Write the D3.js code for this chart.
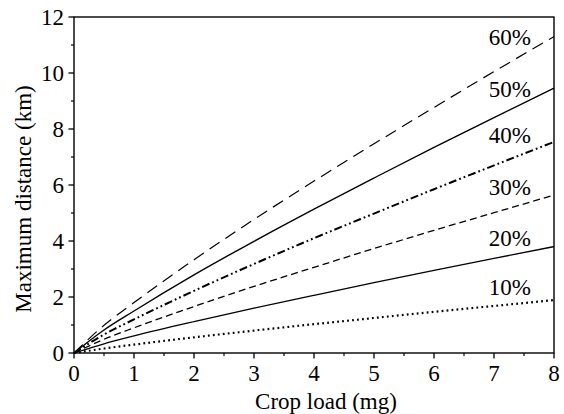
<!DOCTYPE html>
<html>
<head>
<meta charset="utf-8">
<script src="https://cdn.jsdelivr.net/npm/d3@7"></script>
<style>
  html, body { margin: 0; padding: 0; background: #fff; }
  svg { display: block; }
</style>
</head>
<body>
<svg id="chart" width="564" height="414"></svg>
<script>
// Crop load (mg) sample points
const cropLoad = [0, 0.5, 1, 2, 3, 4, 5, 6, 7, 8];

// Maximum flight distance (km) for each percentage
const pct10 = [0, 0.16, 0.30, 0.56, 0.80, 1.03, 1.25, 1.47, 1.68, 1.89];
const pct20 = [0, 0.33, 0.61, 1.12, 1.60, 2.06, 2.51, 2.95, 3.38, 3.80];
const pct30 = [0, 0.49, 0.90, 1.66, 2.38, 3.06, 3.73, 4.38, 5.01, 5.64];
const pct40 = [0, 0.66, 1.20, 2.22, 3.18, 4.10, 4.98, 5.85, 6.70, 7.54];
const pct50 = [0, 0.82, 1.50, 2.79, 3.99, 5.14, 6.25, 7.34, 8.41, 9.46];
const pct60 = [0, 0.99, 1.80, 3.33, 4.77, 6.14, 7.47, 8.77, 10.05, 11.30];

const seriesLabels = ["10%", "20%", "30%", "40%", "50%", "60%"];
const seriesValues = [pct10, pct20, pct30, pct40, pct50, pct60];

const xTicks = [0, 1, 2, 3, 4, 5, 6, 7, 8];
const yTicks = [0, 2, 4, 6, 8, 10, 12];

const xTitle = "Crop load (mg)";
const yTitle = "Maximum distance (km)";

// Line styles per series
const styles = {
  "10%": { width: 2.2, dash: "1.8,3.2", cap: "butt" },
  "20%": { width: 1.3, dash: null, cap: "butt" },
  "30%": { width: 1.3, dash: "7,4", cap: "butt" },
  "40%": { width: 2.0, dash: "8,3,1.8,3,1.8,3", cap: "butt" },
  "50%": { width: 1.4, dash: null, cap: "butt" },
  "60%": { width: 1.2, dash: "12,7", cap: "butt" }
};

const FONT = "Liberation Serif";
const svg = d3.select("#chart");
const margin = { left: 74, right: 10, top: 17, bottom: 61 };
const W = 564, H = 414;
const fs = 23;

const x = d3.scaleLinear().domain([0, 8]).range([margin.left, W - margin.right]);
const y = d3.scaleLinear().domain([0, 12]).range([H - margin.bottom, margin.top]);

const x0 = x(0), x1 = x(8), y0 = y(0), y1 = y(12);

function label(sel) {
  return sel.append("text").attr("font-family", FONT).attr("font-size", fs).attr("fill", "#000");
}

// Ticks and tick labels
const g = svg.append("g");
d3.range(0.5, 8, 1).forEach(v => {
  g.append("line").attr("x1", x(v)).attr("x2", x(v)).attr("y1", y0).attr("y2", y0 + 3)
    .attr("stroke", "#000").attr("stroke-width", 1.2);
});
xTicks.forEach(v => {
  g.append("line").attr("x1", x(v)).attr("x2", x(v)).attr("y1", y0).attr("y2", y0 + 5.5)
    .attr("stroke", "#000").attr("stroke-width", 1.3);
  label(g).attr("x", x(v)).attr("y", y0 + 28).attr("text-anchor", "middle").text(v);
});
d3.range(1, 12, 2).forEach(v => {
  g.append("line").attr("x1", x0 - 3).attr("x2", x0).attr("y1", y(v)).attr("y2", y(v))
    .attr("stroke", "#000").attr("stroke-width", 1.2);
});
yTicks.forEach(v => {
  g.append("line").attr("x1", x0 - 5.5).attr("x2", x0).attr("y1", y(v)).attr("y2", y(v))
    .attr("stroke", "#000").attr("stroke-width", 1.3);
  label(g).attr("x", x0 - 10).attr("y", y(v) + 0.33 * fs).attr("text-anchor", "end").text(v);
});

// Curves
const line = d3.line()
  .x(d => x(d[0]))
  .y(d => y(d[1]))
  .curve(d3.curveMonotoneX);

seriesLabels.forEach((lab, i) => {
  const st = styles[lab];
  const pts = cropLoad.map((c, j) => [c, seriesValues[i][j]]);
  svg.append("path")
    .attr("d", line(pts))
    .attr("fill", "none")
    .attr("stroke", "#000")
    .attr("stroke-width", st.width)
    .attr("stroke-linecap", st.cap)
    .attr("stroke-dasharray", st.dash);
});

// Frame
svg.append("rect")
  .attr("x", x0).attr("y", y1).attr("width", x1 - x0).attr("height", y0 - y1)
  .attr("fill", "none").attr("stroke", "#000").attr("stroke-width", 1.4);

// Series labels above each curve's end
const labelBaseline = { "60%": 45, "50%": 97, "40%": 143, "30%": 195, "20%": 246, "10%": 295 };
seriesLabels.forEach(lab => {
  label(svg).attr("x", 531).attr("y", labelBaseline[lab]).attr("text-anchor", "end").text(lab);
});

// Axis titles
label(svg).attr("x", (x0 + x1) / 2 + 12).attr("y", 409).attr("text-anchor", "middle").text(xTitle);
label(svg).attr("transform", "translate(31,199) rotate(-90)").attr("text-anchor", "middle").text(yTitle);
</script>
</body>
</html>
